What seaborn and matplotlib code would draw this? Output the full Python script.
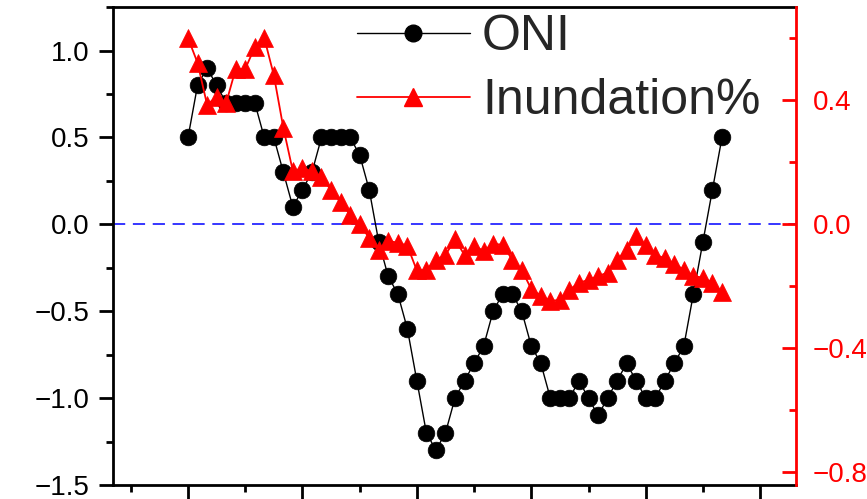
import numpy as np
import pandas as pd
import matplotlib
matplotlib.use("Agg")
import matplotlib.pyplot as plt
import seaborn as sns
from matplotlib.lines import Line2D
from matplotlib.ticker import MultipleLocator

# ---- data (monthly series) ----
oni = [0.5, 0.8, 0.9, 0.8, 0.7, 0.7, 0.7, 0.7, 0.5, 0.5,
       0.3, 0.1, 0.2, 0.3, 0.5, 0.5, 0.5, 0.5, 0.4, 0.2,
       -0.1, -0.3, -0.4, -0.6, -0.9, -1.2, -1.3, -1.2, -1.0, -0.9,
       -0.8, -0.7, -0.5, -0.4, -0.4, -0.5, -0.7, -0.8, -1.0, -1.0,
       -1.0, -0.9, -1.0, -1.1, -1.0, -0.9, -0.8, -0.9, -1.0, -1.0,
       -0.9, -0.8, -0.7, -0.4, -0.1, 0.2, 0.5]
inundation = [0.60, 0.52, 0.385, 0.41, 0.39, 0.50, 0.50, 0.57, 0.60, 0.48,
              0.31, 0.17, 0.18, 0.17, 0.15, 0.11, 0.07, 0.03, 0.00, -0.045,
              -0.085, -0.055, -0.06, -0.07, -0.15, -0.148, -0.116, -0.10, -0.05, -0.10,
              -0.07, -0.087, -0.064, -0.067, -0.115, -0.148, -0.21, -0.232, -0.248, -0.245,
              -0.212, -0.19, -0.18, -0.168, -0.157, -0.116, -0.083, -0.04, -0.068, -0.10,
              -0.11, -0.13, -0.147, -0.168, -0.173, -0.19, -0.22]
month = list(range(len(oni)))
series_labels = ["ONI", "Inundation%"]

sns.set_theme(style="ticks")
plt.rcParams["font.family"] = ["Liberation Sans", "DejaVu Sans"]
plt.rcParams["axes.unicode_minus"] = True

df = pd.DataFrame({"month": month, "ONI": oni, "Inundation": inundation})

fig = plt.figure(figsize=(8.67, 4.99), dpi=100)
ax = fig.add_axes([113 / 867, 14 / 499, 683 / 867, 478 / 499])
ax2 = ax.twinx()

ax.axhline(0, color="blue", lw=1.1, ls=(0, (8, 5)), zorder=1)
sns.lineplot(data=df, x="month", y="ONI", ax=ax, color="black", lw=1.0,
             marker="o", markersize=12, markeredgecolor="black",
             markeredgewidth=0.5, zorder=3)
sns.lineplot(data=df, x="month", y="Inundation", ax=ax2, color="red", lw=1.3,
             marker="^", markersize=13.5, markeredgecolor="red",
             markeredgewidth=0.5, zorder=3)

ax.set_xlim(-7.865, 63.76)
ax.set_ylim(-1.5, 1.251)
ax2.set_ylim(-0.842, 0.700)
ax.set_xlabel("")
ax.set_ylabel("")
ax2.set_ylabel("")

ax.xaxis.set_major_locator(MultipleLocator(12))
ax.xaxis.set_minor_locator(MultipleLocator(6))
ax.yaxis.set_major_locator(MultipleLocator(0.5))
ax.yaxis.set_minor_locator(MultipleLocator(0.25))
ax2.yaxis.set_major_locator(MultipleLocator(0.4))
ax2.yaxis.set_minor_locator(MultipleLocator(0.2))

ax.tick_params(which="major", direction="out", length=10, width=2,
               labelsize=20, pad=7, color="black", labelcolor="black")
ax.tick_params(which="minor", direction="out", length=5, width=2, color="black")
ax.tick_params(axis="x", which="both", labelbottom=False, top=False)
ax.tick_params(axis="y", which="both", right=False)
ax2.tick_params(axis="y", which="major", direction="in", length=10, width=2,
                colors="red", labelsize=20, pad=12)
ax2.tick_params(axis="y", which="minor", direction="in", length=5, width=2,
                colors="red")

for side in ["left", "bottom", "top"]:
    ax.spines[side].set_color("black")
    ax.spines[side].set_linewidth(2)
ax.spines["right"].set_visible(False)
for side in ["left", "bottom", "top"]:
    ax2.spines[side].set_visible(False)
ax2.spines["right"].set_color("red")
ax2.spines["right"].set_linewidth(2)

handles = [
    Line2D([], [], color="black", lw=1.0, marker="o", markersize=12),
    Line2D([], [], color="red", lw=1.3, marker="^", markersize=13.5),
]
fig.legend(handles, series_labels, loc="upper left",
           bbox_to_anchor=(357 / 867, 1 - 14 / 499), frameon=False,
           fontsize=36, handlelength=2.25, handletextpad=0.25,
           labelspacing=0.37, borderpad=0, borderaxespad=0)

fig.savefig("out.png", dpi=100)
